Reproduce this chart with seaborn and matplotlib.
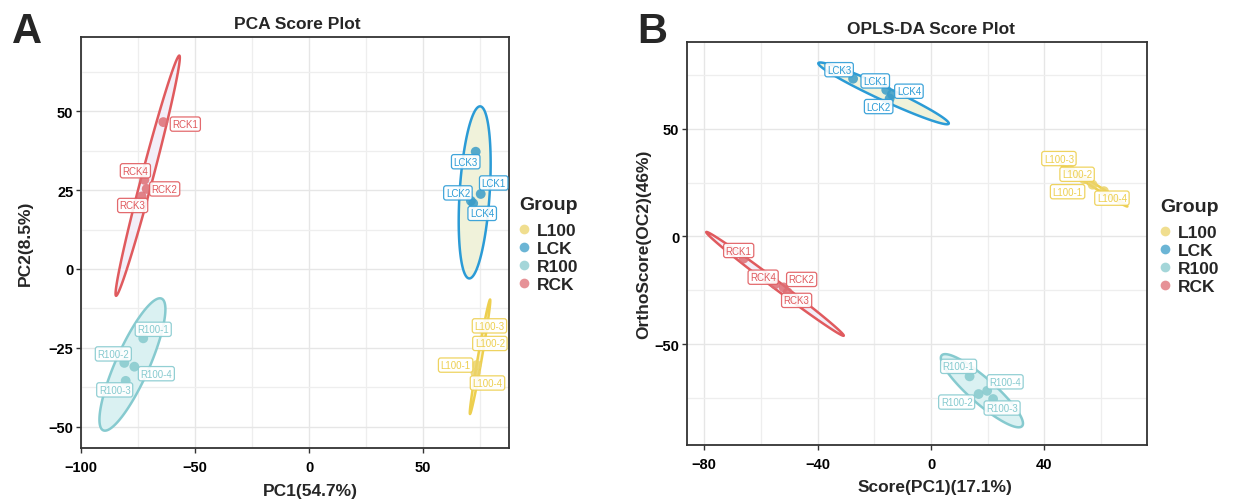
import numpy as np
import pandas as pd
import matplotlib
matplotlib.use('Agg')
import matplotlib.pyplot as plt
from matplotlib.lines import Line2D
from matplotlib.ticker import MultipleLocator, FixedLocator
import seaborn as sns

# ---- data ----
groups = ['L100', 'LCK', 'R100', 'RCK']
samples = ['L100-1', 'L100-2', 'L100-3', 'L100-4',
           'LCK1', 'LCK2', 'LCK3', 'LCK4',
           'R100-1', 'R100-2', 'R100-3', 'R100-4',
           'RCK1', 'RCK2', 'RCK3', 'RCK4']
sample_group = ['L100'] * 4 + ['LCK'] * 4 + ['R100'] * 4 + ['RCK'] * 4

# PCA scores
pca_pc1 = [73.5, 75.8, 76.5, 73.0, 75.3, 71.0, 73.1, 72.0,
           -72.7, -81.0, -80.4, -76.6, -63.9, -71.2, -73.4, -72.2]
pca_pc2 = [-30.5, -23.0, -19.0, -33.0, 23.8, 21.6, 37.2, 20.8,
           -22.0, -29.8, -35.5, -31.0, 46.6, 25.4, 23.0, 28.3]

# PCA 95% ellipses per group: centre, half major-axis vector, half horizontal chord
pca_ell_cx = [75.0, 72.65, -77.45, -70.75]
pca_ell_cy = [-27.85, 24.3, -30.3, 29.6]
pca_ell_ux = [4.4, 2.35, 12.05, 13.85]
pca_ell_uy = [18.15, 27.3, 21.0, 38.1]
pca_ell_hw = [0.9, 6.6, 8.0, 2.6]

# OPLS-DA scores
opls_t1 = [57.0, 54.0, 49.0, 61.0, -15.8, -14.6, -27.5, -13.8,
           13.6, 16.8, 21.9, 19.8, -66.1, -52.0, -50.6, -55.0]
opls_to1 = [24.0, 26.5, 31.0, 21.0, 67.9, 63.9, 73.1, 65.9,
            -64.8, -73.0, -75.3, -71.5, -10.2, -23.6, -25.9, -22.1]

opls_ell_cx = [57.45, -16.75, 17.95, -55.05]
opls_ell_cy = [23.7, 66.3, -71.45, -21.95]
opls_ell_ux = [11.75, 22.35, 12.95, 24.15]
opls_ell_uy = [-9.8, -14.3, -16.95, -24.05]
opls_ell_hw = [1.2, 5.5, 6.5, 2.3]

# ---- styling ----
line_col = {'L100': '#EDCF4F', 'LCK': '#2B9BD6', 'R100': '#86CACF', 'RCK': '#E05A5E'}
point_col = {'L100': '#EBD36A', 'LCK': '#3A9CC8', 'R100': '#86C9CD', 'RCK': '#DE6E74'}
fill_col = {'L100': '#FBF4D2', 'LCK': '#F0F2DA', 'R100': '#DAF1F2', 'RCK': '#F3EEF8'}

# label offsets in pixels (ggrepel-like placement)
pca_lab = {'L100-1': (-21, 0), 'L100-2': (8, -2), 'L100-3': (6, 3), 'L100-4': (12, -10),
           'LCK1': (13, 11), 'LCK2': (-13, 8), 'LCK3': (-10, -10), 'LCK4': (9, -10),
           'R100-1': (10, 9), 'R100-2': (-11, 9), 'R100-3': (-11, -9), 'R100-4': (22, -7),
           'RCK1': (22, -2), 'RCK2': (18, 0), 'RCK3': (-9, -9), 'RCK4': (-9, 9)}
opls_lab = {'L100-1': (-25, -7), 'L100-2': (-7, 5), 'L100-3': (-11, 11), 'L100-4': (8, -7),
            'LCK1': (-11, 9), 'LCK2': (-11, -8), 'LCK3': (-14, 9), 'LCK4': (17, 3),
            'R100-1': (-11, 10), 'R100-2': (-22, -8), 'R100-3': (9, -9), 'R100-4': (18, 9),
            'RCK1': (-5, 8), 'RCK2': (18, 8), 'RCK3': (9, -8), 'RCK4': (-12, 7)}

sns.set_theme(style='white')
plt.rcParams['font.family'] = ['Liberation Sans', 'DejaVu Sans']

W, H = 1243, 502
fig = plt.figure(figsize=(W / 100, H / 100), dpi=100)


def px_axes(left, top, right, bottom):
    return fig.add_axes([left / W, 1 - bottom / H, (right - left) / W, (bottom - top) / H])


def draw_panel(ax, xs, ys, cx, cy, ux, uy, hw, labpos):
    df = pd.DataFrame({'sample': samples, 'group': sample_group, 'x': xs, 'y': ys})
    t = np.linspace(0, 2 * np.pi, 300)
    for i, g in enumerate(groups):
        ex = cx[i] + np.cos(t) * ux[i] + np.sin(t) * hw[i]
        ey = cy[i] + np.cos(t) * uy[i]
        ax.fill(ex, ey, fc=fill_col[g], ec=line_col[g], lw=1.8, zorder=2)
    sns.scatterplot(data=df, x='x', y='y', hue='group', hue_order=groups,
                    palette=point_col, s=50, alpha=0.85, edgecolor='none',
                    legend=False, ax=ax, zorder=3)
    for _, r in df.iterrows():
        c = line_col[r['group']]
        ax.annotate(r['sample'], (r['x'], r['y']), xytext=labpos[r['sample']],
                    textcoords='offset pixels', ha='center', va='center',
                    fontsize=7, color=c, zorder=4,
                    bbox=dict(boxstyle='round,pad=0.22,rounding_size=0.25',
                              fc='white', ec=c, lw=0.9, alpha=0.9))
    ax.grid(which='major', color='#E6E6E6', lw=1.0)
    ax.grid(which='minor', color='#EEEEEE', lw=0.9)
    ax.set_axisbelow(True)
    for s in ax.spines.values():
        s.set_color('#333333')
        s.set_linewidth(1.3)
    ax.tick_params(which='major', direction='out', length=3.5, width=1,
                   colors='#333333', labelcolor='black', labelsize=10.5,
                   bottom=True, left=True)
    ax.tick_params(axis='x', which='major', pad=5)
    ax.tick_params(axis='y', which='major', pad=2)
    ax.tick_params(which='minor', length=0)


def add_legend(ax, left, top):
    handles = [Line2D([], [], ls='none', marker='o', ms=7, mec='none',
                      mfc=point_col[g], alpha=0.75) for g in groups]
    leg = ax.legend(handles, groups, title='Group', loc='upper left',
                    bbox_to_anchor=(left / W, 1 - top / H), bbox_transform=fig.transFigure,
                    frameon=False, handlelength=0.6, handletextpad=0.45,
                    labelspacing=0.17, borderpad=0, borderaxespad=0,
                    prop=dict(weight='bold', size=12.5),
                    title_fontproperties=dict(weight='bold', size=14))
    leg._legend_box.align = 'left'
    leg._legend_box.sep = 7


def bold_ticks(ax):
    for lb in ax.get_xticklabels() + ax.get_yticklabels():
        lb.set_fontweight('bold')


# ---- panel A: PCA ----
axA = px_axes(81, 38, 509, 449)
draw_panel(axA, pca_pc1, pca_pc2, pca_ell_cx, pca_ell_cy, pca_ell_ux, pca_ell_uy,
           pca_ell_hw, pca_lab)
axA.set_xlim(-100, 87.7)
axA.set_ylim(-56.8, 73.6)
axA.xaxis.set_major_locator(FixedLocator([-100, -50, 0, 50]))
axA.xaxis.set_minor_locator(MultipleLocator(25))
axA.yaxis.set_major_locator(MultipleLocator(25))
axA.yaxis.set_minor_locator(MultipleLocator(12.5))
bold_ticks(axA)
axA.set_xlabel('PC1(54.7%)', fontsize=12.5, fontweight='bold', labelpad=4)
axA.set_ylabel('PC2(8.5%)', fontsize=12.5, fontweight='bold', labelpad=11)
axA.xaxis.set_label_coords((310 - 81) / 428, -0.085)
add_legend(axA, 519, 197)
fig.text(297 / W, 1 - 29 / H, 'PCA Score Plot', ha='center', va='baseline',
         fontsize=12.5, fontweight='bold')
fig.text(12 / W, 1 - 43 / H, 'A', ha='left', va='baseline', fontsize=30, fontweight='bold')

# ---- panel B: OPLS-DA ----
axB = px_axes(687, 43, 1147, 446)
draw_panel(axB, opls_t1, opls_to1, opls_ell_cx, opls_ell_cy, opls_ell_ux, opls_ell_uy,
           opls_ell_hw, opls_lab)
axB.set_xlim(-86.1, 76.2)
axB.set_ylim(-96.6, 90.1)
axB.xaxis.set_major_locator(MultipleLocator(40))
axB.xaxis.set_minor_locator(MultipleLocator(20))
axB.yaxis.set_major_locator(MultipleLocator(50))
axB.yaxis.set_minor_locator(MultipleLocator(25))
bold_ticks(axB)
axB.set_xlabel('Score(PC1)(17.1%)', fontsize=12.5, fontweight='bold', labelpad=4)
axB.set_ylabel('OrthoScore(OC2)(46%)', fontsize=12.5, fontweight='bold', labelpad=2.5)
axB.xaxis.set_label_coords((935 - 687) / 460, -0.085)
add_legend(axB, 1160, 199)
fig.text(931 / W, 1 - 34 / H, 'OPLS-DA Score Plot', ha='center', va='baseline',
         fontsize=12.5, fontweight='bold')
fig.text(637 / W, 1 - 43 / H, 'B', ha='left', va='baseline', fontsize=30, fontweight='bold')

fig.savefig('out.png', dpi=100)
